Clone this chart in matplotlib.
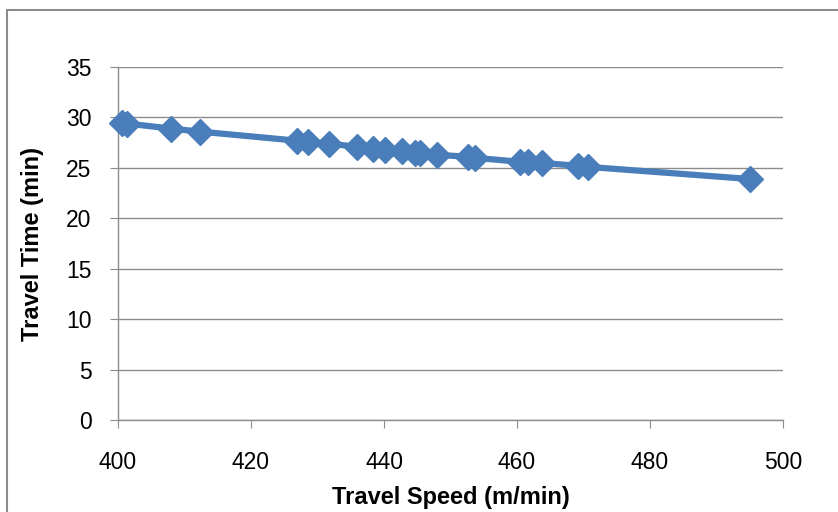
import matplotlib.pyplot as plt
from matplotlib.patches import Rectangle

# travel speed (m/min) vs travel time (min)
speed = [400.6, 401.3, 408.0, 412.3, 426.9, 428.5, 431.8, 435.9, 438.4, 440.2, 442.7,
         444.7, 445.4, 447.9, 452.7, 453.7, 460.5, 461.7, 463.7, 469.2, 470.7, 495.0]
time = [29.5, 29.4, 28.9, 28.6, 27.7, 27.6, 27.4, 27.1, 26.9, 26.8, 26.7,
        26.5, 26.5, 26.3, 26.1, 26.0, 25.6, 25.6, 25.5, 25.2, 25.1, 23.9]
x_ticks = [400, 420, 440, 460, 480, 500]
y_ticks = [0, 5, 10, 15, 20, 25, 30, 35]

plt.rcParams['font.family'] = ['Liberation Sans', 'DejaVu Sans']

fig = plt.figure(figsize=(8.38, 5.12), dpi=100)
ax = fig.add_axes([0.1408, 0.1797, 0.7936, 0.6893])

# outer chart border (cut off at right and bottom)
fig.patches.append(Rectangle((7 / 838, -0.1), 1.2, 1 - 10 / 512 + 0.1,
                             transform=fig.transFigure, fill=False,
                             edgecolor='#8c8c8c', linewidth=1.5))

ax.plot(speed, time, color='#4a7ebb', linewidth=4.5, marker='D',
        markersize=13, markerfacecolor='#4a7ebb', markeredgecolor='#4a7ebb',
        zorder=3, clip_on=False)

ax.set_xlim(400, 500)
ax.set_ylim(0, 35)
ax.set_xticks(x_ticks)
ax.set_yticks(y_ticks)
ax.grid(axis='y', color='#8c8c8c', linewidth=1)
ax.set_axisbelow(True)

for s in ['top', 'right']:
    ax.spines[s].set_visible(False)
for s in ['left', 'bottom']:
    ax.spines[s].set_color('#8c8c8c')
    ax.spines[s].set_linewidth(1)

ax.tick_params(axis='x', direction='out', length=6, color='#8c8c8c',
               labelsize=16.5, pad=16)
ax.tick_params(axis='y', direction='out', length=6, color='#8c8c8c',
               labelsize=16.5, pad=13)

ax.set_xlabel('Travel Speed (m/min)', fontsize=17, fontweight='bold', labelpad=9)
ax.set_ylabel('Travel Time (min)', fontsize=17, fontweight='bold', labelpad=16)

fig.savefig('out.png', dpi=100)
